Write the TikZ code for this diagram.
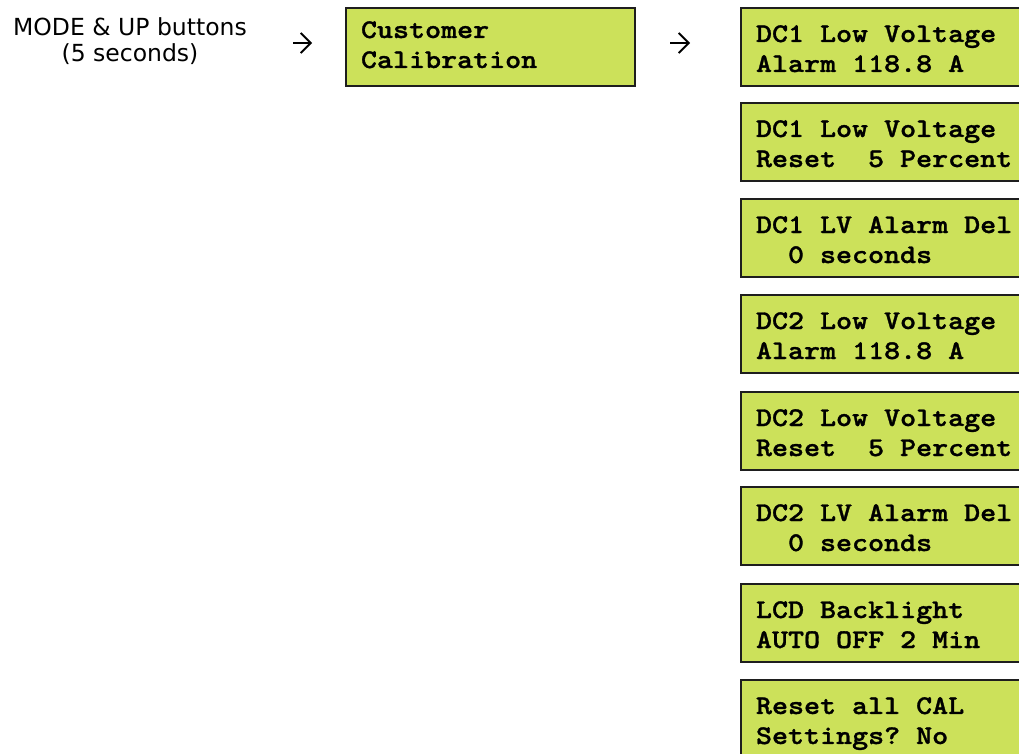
\documentclass[tikz,border=0pt]{standalone}
\usepackage{fontspec}
\setmainfont{DejaVu Sans}
% bold slab typewriter face, widened to a 16pt character cell
\newfontfamily\lcdfont[FakeStretch=1.13, FakeBold=1.2]{lmmonolt10-bold.otf}
\newcommand{\lcdtype}{\lcdfont\fontsize{27}{30}\selectfont}
% every space takes exactly one character cell
\newcommand{\cellspace}{\spaceskip=16pt\relax\xspaceskip=16pt\relax}
\usetikzlibrary{arrows.meta}
\definecolor{lcdgreen}{RGB}{204,225,90}
\definecolor{lcdedge}{RGB}{30,30,30}
% two-line display text: first-line height, line one, line two, last-line depth
\newcommand{\lcdlines}[4]{\cellspace\rule{0pt}{#1pt}\mbox{#2}\\\mbox{#3}\rule[-#4pt]{0pt}{#4pt}}
\newcommand{\lcd}[2]{\lcdlines{26}{#1}{#2}{6}}
\hfuzz=100pt
\tikzset{
  lcdbox/.style={draw=lcdedge, line width=1.8pt, fill=lcdgreen, rectangle,
    minimum width=289pt, minimum height=78pt, text width=259pt,
    inner xsep=15pt, inner ysep=0pt, outer sep=0pt, align=flush left,
    anchor=north west, font=\lcdtype},
  note/.style={align=center, font=\fontsize{23.5}{26.5}\selectfont, inner sep=0pt},
  flow/.style={line width=1.8pt, -{Straight Barb[length=10pt,width=20pt,line width=1.8pt]}}
}
\begin{document}
\begin{tikzpicture}[x=1pt,y=-1pt]
\useasboundingbox (0,0) rectangle (1019,754);
\clip (0,0) rectangle (1019,754);

% key combination that opens the menu
\node[note, anchor=north] (keys) at (130,17) {MODE \& UP buttons\\(5 seconds)};

% first display
\node[lcdbox] (cal) at (346,8) {\lcdlines{22}{Customer}{Calibration}{10}};

% calibration menu items
\node[lcdbox] (m1) at (741,8)   {\lcd{DC1 Low Voltage}{Alarm 118.8 A}};
\node[lcdbox] (m2) at (741,103) {\lcd{DC1 Low Voltage}{Reset\ \ 5 Percent}};
\node[lcdbox] (m3) at (741,199) {\lcd{DC1 LV Alarm Del}{\ \ 0 seconds}};
\node[lcdbox] (m4) at (741,295) {\lcd{DC2 Low Voltage}{Alarm 118.8 A}};
\node[lcdbox] (m5) at (741,392) {\lcd{DC2 Low Voltage}{Reset\ \ 5 Percent}};
\node[lcdbox] (m6) at (741,487) {\lcd{DC2 LV Alarm Del}{\ \ 0 seconds}};
\node[lcdbox] (m7) at (741,584) {\lcd{LCD Backlight}{AUTO OFF 2 Min}};
\node[lcdbox] (m8) at (741,680) {\lcd{Reset all CAL}{Settings? No}};

% step arrows
\coordinate (a1s) at (293,43);
\coordinate (a1e) at (312,43);
\coordinate (a2s) at (670,43);
\coordinate (a2e) at (690,43);
\draw[flow] (a1s) -- (a1e);
\draw[flow] (a2s) -- (a2e);
\end{tikzpicture}
\end{document}
